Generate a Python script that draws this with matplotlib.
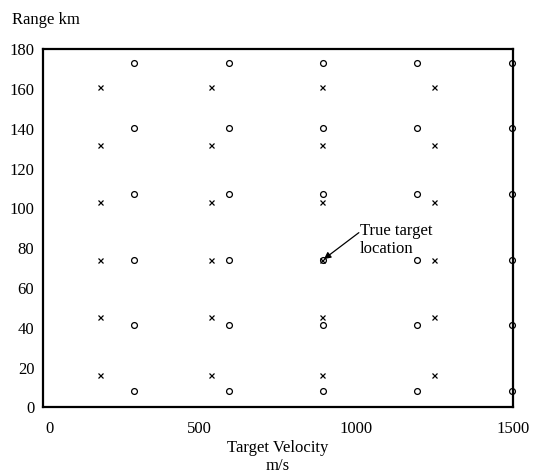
import matplotlib
matplotlib.use("Agg")
import matplotlib.pyplot as plt
from matplotlib.transforms import ScaledTranslation

plt.rcParams['font.family'] = ['Liberation Serif', 'DejaVu Serif']

# ambiguity grid
circle_vel = [293, 594, 894, 1195, 1497]          # m/s
circle_rng = [8.3, 41.2, 74.1, 107.2, 140.3, 173.3]  # km
cross_vel = [183, 537, 893, 1249]
cross_rng = [16.2, 45.2, 74.1, 103.0, 131.9, 160.9]

true_target = (894, 74.1)

xticks = [0, 500, 1000, 1500]
yticks = [0, 20, 40, 60, 80, 100, 120, 140, 160, 180]

fs = 12

fig = plt.figure(figsize=(5.35, 4.72), dpi=100)
ax = fig.add_axes([0.0798, 0.1371, 0.8785, 0.7585])

cx = [v for v in circle_vel for r in circle_rng]
cy = [r for v in circle_vel for r in circle_rng]
ax.plot(cx, cy, 'o', ls='none', ms=4.2, mfc='none', mec='black', mew=0.9, clip_on=False)

xx = [v for v in cross_vel for r in cross_rng]
xy = [r for v in cross_vel for r in cross_rng]
ax.plot(xx, xy, 'x', ls='none', ms=3.6, color='black', mew=0.9, clip_on=False)

# arrow and its label
ax.annotate("", xy=true_target, xytext=(1009, 87.8),
            arrowprops=dict(arrowstyle='-|>', color='black', lw=0.9,
                            mutation_scale=10, shrinkA=0, shrinkB=1))
ax.text(1012, 84, "True target\nlocation", fontsize=fs, ha='left', va='center',
        linespacing=1.15)

ax.set_xlim(0, 1500)
ax.set_ylim(0, 180)
ax.set_xticks(xticks)
ax.set_yticks(yticks)
ax.tick_params(length=0, labelsize=fs)
ax.tick_params(axis='x', pad=10)
ax.tick_params(axis='y', pad=6)
for s in ax.spines.values():
    s.set_linewidth(1.6)

# first x label sits a bit to the right of the spine
lbl = ax.get_xticklabels()[0]
lbl.set_transform(lbl.get_transform() + ScaledTranslation(7 / 100, 0, fig.dpi_scale_trans))

fig.text(12.5 / 535, 1 - 20 / 472, "Range km", fontsize=fs, ha='left', va='center')
fig.text(0.5 * (42.7 + 512.7) / 535, 1 - 448 / 472, "Target Velocity", fontsize=fs, ha='center', va='center')
fig.text(0.5 * (42.7 + 512.7) / 535, 1 - 466 / 472, "m/s", fontsize=fs, ha='center', va='center')

fig.savefig("out.png", dpi=100)
